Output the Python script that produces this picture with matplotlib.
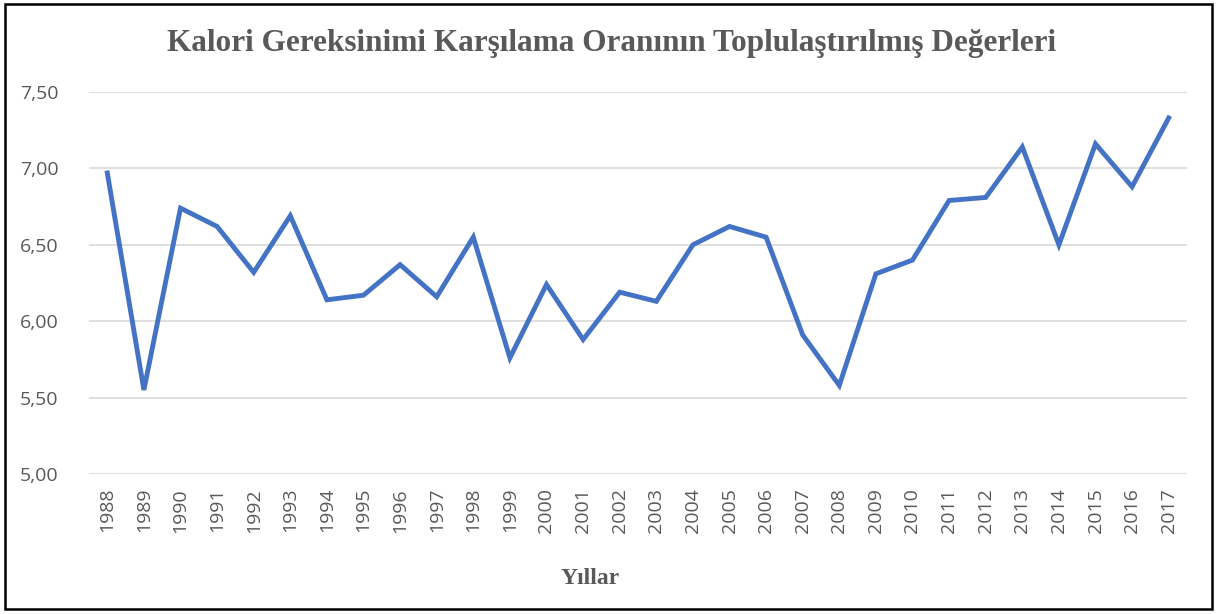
import matplotlib
matplotlib.use("Agg")
import matplotlib.pyplot as plt
from matplotlib.patches import Rectangle

years = [str(y) for y in range(1988, 2018)]
values = [6.97, 5.55, 6.74, 6.62, 6.32, 6.69, 6.14, 6.17, 6.37, 6.16,
          6.55, 5.76, 6.24, 5.88, 6.19, 6.13, 6.50, 6.62, 6.55, 5.91,
          5.58, 6.31, 6.40, 6.79, 6.81, 7.14, 6.50, 7.16, 6.88, 7.33]
yticks = [5.00, 5.50, 6.00, 6.50, 7.00, 7.50]
title = "Kalori Gereksinimi Karşılama Oranının Toplulaştırılmış Değerleri"
xlabel = "Yıllar"

W, H = 1217, 614
fig = plt.figure(figsize=(W / 100, H / 100), dpi=100)
ax = fig.add_axes([89 / W, 1 - 474 / H, (1187 - 89) / W, (474 - 92) / H])

x = list(range(len(years)))
ax.plot(x, values, color="#4472C4", linewidth=3.5, solid_joinstyle="miter", zorder=3)

ax.set_xlim(-0.5, len(years) - 0.5)
ax.set_ylim(5.0, 7.5)
ax.set_yticks(yticks)
ax.set_yticklabels([f"{v:.2f}".replace(".", ",") for v in yticks])
ax.set_xticks(x)
ax.set_xticklabels(years, rotation=90)

for s in ax.spines.values():
    s.set_visible(False)
ax.grid(axis="y", color="#d9d9d9", linewidth=1.2, zorder=0)
ax.tick_params(axis="both", length=0, colors="#595959", labelsize=14)
ax.tick_params(axis="y", pad=22)
ax.tick_params(axis="x", pad=10)
for lbl in ax.get_xticklabels() + ax.get_yticklabels():
    lbl.set_fontfamily("Open Sans")

fig.text(612 / W, 1 - 43 / H, title, ha="center", va="center",
         fontfamily="Liberation Serif", fontweight="bold", fontsize=22.5,
         color="#595959")
fig.text(590 / W, 1 - 578 / H, xlabel, ha="center", va="center",
         fontfamily="Liberation Serif", fontweight="bold", fontsize=17,
         color="#595959")

fig.patches.append(Rectangle((5 / W, 5 / H), (W - 10) / W, (H - 9) / H,
                             transform=fig.transFigure, fill=False,
                             edgecolor="black", linewidth=1.8))

fig.savefig("out.png", dpi=100)
